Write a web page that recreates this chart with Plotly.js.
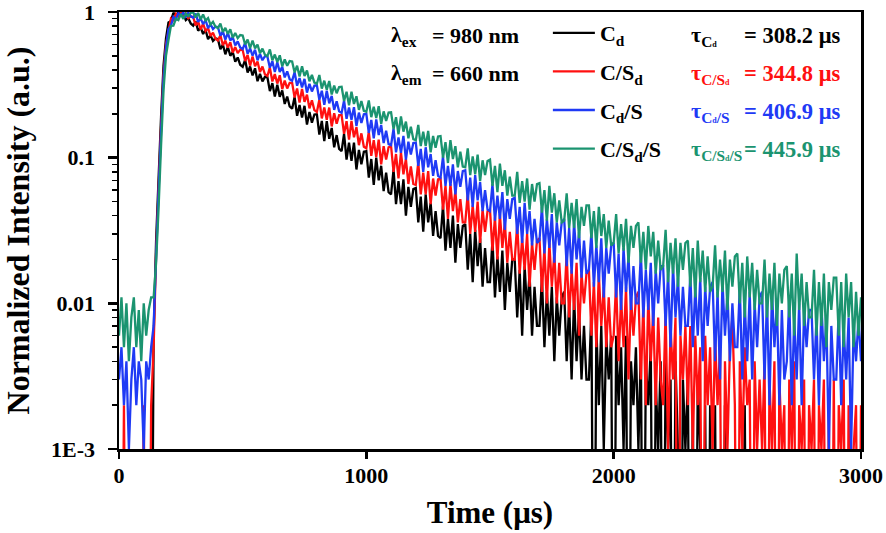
<!DOCTYPE html>
<html><head><meta charset="utf-8">
<script src="https://cdn.plot.ly/plotly-3.0.1.min.js"></script>
<style>html,body{margin:0;padding:0;background:#fff;}#chart{width:886px;height:533px;}</style>
</head><body><div id="chart"></div>
<script>
// Time axis (µs), one sample every 10 µs
const timeUs = [
0,10,20,30,40,50,60,70,80,90,
100,110,120,130,140,150,160,170,180,190,
200,210,220,230,240,250,260,270,280,290,
300,310,320,330,340,350,360,370,380,390,
400,410,420,430,440,450,460,470,480,490,
500,510,520,530,540,550,560,570,580,590,
600,610,620,630,640,650,660,670,680,690,
700,710,720,730,740,750,760,770,780,790,
800,810,820,830,840,850,860,870,880,890,
900,910,920,930,940,950,960,970,980,990,
1000,1010,1020,1030,1040,1050,1060,1070,1080,1090,
1100,1110,1120,1130,1140,1150,1160,1170,1180,1190,
1200,1210,1220,1230,1240,1250,1260,1270,1280,1290,
1300,1310,1320,1330,1340,1350,1360,1370,1380,1390,
1400,1410,1420,1430,1440,1450,1460,1470,1480,1490,
1500,1510,1520,1530,1540,1550,1560,1570,1580,1590,
1600,1610,1620,1630,1640,1650,1660,1670,1680,1690,
1700,1710,1720,1730,1740,1750,1760,1770,1780,1790,
1800,1810,1820,1830,1840,1850,1860,1870,1880,1890,
1900,1910,1920,1930,1940,1950,1960,1970,1980,1990,
2000,2010,2020,2030,2040,2050,2060,2070,2080,2090,
2100,2110,2120,2130,2140,2150,2160,2170,2180,2190,
2200,2210,2220,2230,2240,2250,2260,2270,2280,2290,
2300,2310,2320,2330,2340,2350,2360,2370,2380,2390,
2400,2410,2420,2430,2440,2450,2460,2470,2480,2490,
2500,2510,2520,2530,2540,2550,2560,2570,2580,2590,
2600,2610,2620,2630,2640,2650,2660,2670,2680,2690,
2700,2710,2720,2730,2740,2750,2760,2770,2780,2790,
2800,2810,2820,2830,2840,2850,2860,2870,2880,2890,
2900,2910,2920,2930,2940,2950,2960,2970,2980,2990,
3000];

// Normalized intensity, C_d (black)
const intensityCd = [
0,0,0.001,0,0,0,0,0,0.001,0,
0,0,0,0,0.006,0.027,0.072,0.19,0.43,0.66,
0.85,0.87,0.99,0.94,1.0,0.955,0.98,0.88,0.91,0.835,
0.807,0.86,0.744,0.784,0.707,0.754,0.651,0.695,0.634,0.66,
0.651,0.556,0.599,0.513,0.578,0.501,0.532,0.456,0.488,0.435,
0.421,0.47,0.384,0.423,0.367,0.411,0.335,0.376,0.334,0.359,
0.357,0.287,0.325,0.263,0.317,0.262,0.29,0.234,0.263,0.225,
0.217,0.261,0.194,0.23,0.189,0.227,0.169,0.206,0.174,0.198,
0.199,0.144,0.179,0.13,0.178,0.135,0.16,0.118,0.143,0.115,
0.111,0.146,0.097,0.127,0.095,0.127,0.083,0.113,0.09,0.11,
0.111,0.073,0.098,0.065,0.1,0.07,0.088,0.059,0.079,0.058,
0.056,0.083,0.048,0.069,0.048,0.071,0.04,0.063,0.046,0.061,
0.062,0.036,0.054,0.031,0.056,0.036,0.049,0.029,0.043,0.029,
0.028,0.047,0.023,0.038,0.024,0.04,0.019,0.035,0.024,0.034,
0.035,0.017,0.030,0.014,0.032,0.018,0.028,0.013,0.024,0.014,
0.014,0.027,0.011,0.021,0.012,0.023,0.009,0.019,0.012,0.020,
0.020,0.008,0.017,0.006,0.018,0.009,0.016,0.006,0.013,0.007,
0.007,0.015,0.005,0.012,0.006,0.013,0.004,0.011,0.006,0.011,
0.012,0.004,0.010,0.003,0.011,0.004,0.009,0.003,0.007,0.003,
0.003,0.009,0,0.007,0.002,0.007,0.001,0.006,0.003,0.006,
0,0.006,0.002,0.005,0.001,0.006,0,0.004,0.002,0.005,
0.001,0.005,0,0.004,0.002,0.005,0,0.003,0.001,0.004,
0,0.004,0.001,0.003,0,0.004,0.001,0,0.003,0.001,
0.003,0,0.002,0,0.003,0.001,0,0.002,0,0.002,
0,0.002,0,0.001,0,0.002,0,0,0.001,0,
0.001,0,0,0.002,0,0.001,0,0,0.001,0,
0,0.001,0,0,0.001,0,0,0.001,0,0,
0.001,0,0,0,0.001,0,0,0,0.001,0,
0,0,0.001,0,0,0,0.001,0,0,0,
0,0.001,0,0,0,0,0.001,0,0,0,
0];

// Normalized intensity, C/S_d (red)
const intensityCSd = [
0,0,0.002,0,0,0.001,0,0,0,0,
0.002,0,0,0.002,0.005,0.022,0.06,0.16,0.37,0.6,
0.737,0.903,0.879,0.974,0.936,1.0,0.922,0.979,0.907,0.936,
0.923,0.811,0.859,0.759,0.833,0.742,0.775,0.685,0.722,0.657,
0.639,0.694,0.592,0.637,0.57,0.62,0.527,0.575,0.522,0.552,
0.548,0.461,0.507,0.429,0.495,0.425,0.458,0.388,0.423,0.374,
0.364,0.415,0.334,0.375,0.323,0.368,0.296,0.339,0.299,0.327,
0.327,0.259,0.299,0.239,0.297,0.242,0.271,0.218,0.248,0.212,
0.206,0.25,0.186,0.221,0.182,0.221,0.164,0.202,0.171,0.196,
0.196,0.146,0.178,0.133,0.179,0.138,0.162,0.122,0.147,0.119,
0.116,0.151,0.103,0.132,0.101,0.133,0.09,0.12,0.097,0.118,
0.12,0.08,0.106,0.072,0.109,0.077,0.098,0.066,0.087,0.066,
0.065,0.093,0.056,0.079,0.056,0.081,0.048,0.072,0.055,0.071,
0.072,0.044,0.064,0.038,0.066,0.043,0.059,0.036,0.052,0.036,
0.036,0.057,0.030,0.047,0.031,0.050,0.026,0.044,0.031,0.043,
0.044,0.023,0.039,0.020,0.041,0.024,0.036,0.019,0.031,0.020,
0.020,0.035,0.016,0.028,0.017,0.030,0.013,0.026,0.017,0.027,
0.028,0.012,0.024,0.010,0.026,0.013,0.022,0.010,0.019,0.010,
0.010,0.022,0.008,0.017,0.009,0.019,0.006,0.016,0.010,0.016,
0.017,0.006,0.014,0.005,0.016,0.007,0.013,0.005,0.011,0.005,
0.006,0.014,0.004,0.011,0.005,0.013,0.003,0.011,0.006,0.011,
0.012,0.003,0.010,0.002,0.011,0.004,0.009,0.002,0.008,0.003,
0.002,0.009,0.001,0.007,0.003,0.008,0,0.006,0.003,0.007,
0.002,0.007,0.001,0.006,0.002,0.005,0,0.006,0.002,0.005,
0.001,0.006,0.002,0.005,0,0.004,0.001,0.005,0.008,0.002,
0,0.004,0.001,0.005,0.002,0.003,0,0.004,0.001,0.003,
0.001,0.004,0,0.003,0.001,0.004,0,0.003,0.001,0.002,
0,0.003,0.001,0.004,0,0.002,0.001,0.003,0,0.002,
0.001,0.003,0,0.002,0.001,0.003,0,0.002,0,0.003,
0,0.002,0.001,0.003,0,0.002,0,0.001,0.002,0,
0.002];

// Normalized intensity, C_d/S (blue)
const intensityCdS = [
0.003,0.005,0.002,0.004,0.001,0.003,0.005,0.002,0.004,0.003,
0.001,0.004,0.003,0.005,0.007,0.021,0.058,0.15,0.35,0.57,
0.763,0.806,0.927,0.893,0.985,0.946,0.99,0.931,0.989,0.936,
0.916,0.975,0.857,0.905,0.827,0.881,0.774,0.826,0.764,0.796,
0.788,0.688,0.737,0.647,0.719,0.638,0.672,0.591,0.629,0.571,
0.558,0.613,0.518,0.563,0.502,0.552,0.467,0.515,0.467,0.498,
0.495,0.415,0.461,0.388,0.453,0.388,0.421,0.356,0.392,0.346,
0.338,0.386,0.312,0.352,0.304,0.348,0.28,0.322,0.285,0.313,
0.314,0.25,0.288,0.231,0.288,0.236,0.266,0.213,0.244,0.208,
0.203,0.247,0.185,0.221,0.182,0.222,0.165,0.204,0.173,0.199,
0.2,0.148,0.182,0.136,0.183,0.143,0.168,0.126,0.153,0.124,
0.122,0.158,0.109,0.138,0.108,0.141,0.097,0.129,0.105,0.126,
0.127,0.088,0.115,0.08,0.118,0.086,0.106,0.075,0.096,0.075,
0.073,0.102,0.064,0.088,0.064,0.09,0.056,0.081,0.063,0.081,
0.082,0.051,0.073,0.046,0.076,0.051,0.068,0.043,0.06,0.044,
0.043,0.066,0.037,0.055,0.038,0.058,0.032,0.052,0.038,0.052,
0.053,0.03,0.046,0.026,0.049,0.03,0.043,0.025,0.038,0.026,
0.027,0.046,0.022,0.038,0.024,0.041,0.019,0.036,0.025,0.036,
0.038,0.018,0.033,0.016,0.036,0.020,0.031,0.015,0.027,0.016,
0.017,0.031,0.013,0.025,0.014,0.028,0.011,0.024,0.016,0.025,
0.026,0.011,0.022,0.009,0.024,0.012,0.021,0.009,0.018,0.010,
0.010,0.022,0.008,0.017,0.009,0.019,0.007,0.017,0.010,0.018,
0.018,0.007,0.016,0.005,0.018,0.008,0.015,0.006,0.013,0.007,
0.007,0.016,0.005,0.013,0.006,0.015,0.004,0.013,0.007,0.013,
0.014,0.004,0.012,0.003,0.014,0.006,0.012,0.004,0.010,0.005,
0.005,0.013,0.003,0.010,0.004,0.012,0.003,0.010,0.005,0.011,
0.012,0.003,0.011,0.002,0.012,0.005,0.010,0.002,0.009,0.003,
0.004,0.011,0.002,0.008,0.003,0.010,0.002,0.009,0.005,0.009,
0.009,0.003,0.008,0.002,0.010,0.004,0.008,0.001,0.007,0.003,
0.003,0.009,0.002,0.007,0.003,0.008,0.001,0.007,0.004,0.008,
0.004];

// Normalized intensity, C/S_d/S (green)
const intensityCSdS = [
0.006,0.011,0.005,0.010,0.004,0.008,0.011,0.005,0.009,0.004,
0.010,0.006,0.009,0.011,0.011,0.019,0.045,0.12,0.29,0.5,
0.642,0.805,0.806,0.9,0.881,0.968,0.898,0.976,0.938,0.989,
0.995,0.918,0.986,0.89,0.963,0.875,0.909,0.82,0.858,0.794,
0.776,0.835,0.73,0.778,0.708,0.762,0.666,0.718,0.662,0.695,
0.69,0.599,0.648,0.566,0.638,0.563,0.599,0.523,0.561,0.509,
0.499,0.554,0.466,0.511,0.454,0.505,0.424,0.473,0.428,0.461,
0.458,0.385,0.428,0.361,0.424,0.364,0.397,0.335,0.371,0.328,
0.322,0.37,0.298,0.338,0.293,0.336,0.272,0.313,0.277,0.306,
0.307,0.245,0.284,0.229,0.284,0.234,0.264,0.213,0.245,0.21,
0.207,0.247,0.19,0.224,0.187,0.226,0.171,0.208,0.179,0.204,
0.205,0.157,0.19,0.145,0.192,0.151,0.177,0.136,0.163,0.134,
0.132,0.168,0.12,0.151,0.12,0.153,0.109,0.141,0.117,0.14,
0.141,0.1,0.128,0.092,0.132,0.098,0.12,0.086,0.11,0.087,
0.086,0.116,0.076,0.102,0.077,0.105,0.069,0.096,0.076,0.095,
0.097,0.064,0.088,0.058,0.091,0.064,0.082,0.055,0.074,0.055,
0.055,0.08,0.049,0.069,0.05,0.072,0.044,0.066,0.05,0.066,
0.067,0.042,0.06,0.037,0.064,0.042,0.057,0.036,0.051,0.036,
0.037,0.057,0.033,0.049,0.033,0.052,0.028,0.046,0.034,0.047,
0.047,0.028,0.043,0.024,0.046,0.029,0.041,0.024,0.037,0.025,
0.026,0.041,0.022,0.035,0.023,0.038,0.019,0.034,0.024,0.034,
0.036,0.019,0.031,0.017,0.034,0.021,0.031,0.016,0.027,0.017,
0.018,0.032,0.014,0.026,0.016,0.028,0.013,0.026,0.017,0.026,
0.027,0.013,0.024,0.011,0.027,0.014,0.023,0.012,0.021,0.012,
0.013,0.025,0.011,0.02,0.012,0.023,0.009,0.02,0.013,0.021,
0.022,0.01,0.019,0.008,0.021,0.011,0.019,0.009,0.017,0.01,
0.01,0.02,0.008,0.016,0.009,0.019,0.007,0.016,0.01,0.017,
0.018,0.008,0.016,0.006,0.022,0.009,0.016,0.007,0.014,0.008,
0.008,0.017,0.006,0.014,0.007,0.016,0.005,0.014,0.009,0.015,
0.015,0.006,0.014,0.005,0.016,0.008,0.014,0.005,0.012,0.006,
0.011];

const seriesNames = ['C<sub>d</sub>', 'C/S<sub>d</sub>', 'C<sub>d</sub>/S', 'C/S<sub>d</sub>/S'];
const seriesColors = ['#000000', '#ff1010', '#1f3af5', '#1b9470'];
const seriesData = [intensityCd, intensityCSd, intensityCdS, intensityCSdS];

const lifetimeSubs = ['C<span style="font-size:8px">d</span>', 'C/S<span style="font-size:8px">d</span>',
                      'C<span style="font-size:8px">d</span>/S', 'C/S<span style="font-size:8px">d</span>/S'];
const lifetimeValues = ['308.2', '344.8', '406.9', '445.9'];

const excitationLabel = ['λ<sub>ex</sub>', '= 980 nm'];
const emissionLabel = ['λ<sub>em</sub>', '= 660 nm'];

const xTickVals = [0, 1000, 2000, 3000];
const yTickVals = [0.001, 0.01, 0.1, 1];
const yTickText = ['1E-3', '0.01', '0.1', '1'];

// ---- drawing ----
const FONT = '"Liberation Serif", "Times New Roman", Times, serif';
const BELOW_AXIS = 1e-5; // zero-count bins fall below the log axis, as in the original

const traces = seriesData.map((vals, i) => ({
  type: 'scatter', mode: 'lines',
  x: timeUs,
  y: vals.map(v => (v > 0 ? v : BELOW_AXIS)),
  name: seriesNames[i],
  legendgroup: 'g' + i,
  line: { color: seriesColors[i], width: 2.3, simplify: false },
  hoverinfo: 'skip'
}));

const minorVals = [];
[0.001, 0.01, 0.1].forEach(d => { for (let k = 2; k <= 9; k++) minorVals.push(+(d * k).toPrecision(3)); });

const rowY = [0.946, 0.859, 0.772, 0.685];
const annotations = [];
[excitationLabel, emissionLabel].forEach((lab, r) => {
  annotations.push({ xref: 'paper', yref: 'paper', x: 0.364, y: rowY[r], xanchor: 'left', yanchor: 'middle',
    text: lab[0], showarrow: false, font: { family: FONT, size: 22, weight: 'bold', color: '#000' } });
  annotations.push({ xref: 'paper', yref: 'paper', x: 0.419, y: rowY[r], xanchor: 'left', yanchor: 'middle',
    text: lab[1], showarrow: false, font: { family: FONT, size: 22, weight: 'bold', color: '#000' } });
});
lifetimeValues.forEach((val, r) => {
  annotations.push({ xref: 'paper', yref: 'paper', x: 0.768, y: rowY[r], xanchor: 'left', yanchor: 'middle',
    text: 'τ<sub>' + lifetimeSubs[r] + '</sub>', showarrow: false,
    font: { family: FONT, size: 22, weight: 'bold', color: seriesColors[r] } });
  annotations.push({ xref: 'paper', yref: 'paper', x: 0.839, y: rowY[r], xanchor: 'left', yanchor: 'middle',
    text: '= ' + val + ' μs', showarrow: false,
    font: { family: FONT, size: 22.5, weight: 'bold', color: seriesColors[r] } });
});

const tickFont = { family: FONT, size: 22, weight: 'bold', color: '#000' };

const layout = {
  width: 886, height: 533,
  margin: { l: 119, r: 25, t: 12, b: 84, autoexpand: false },
  paper_bgcolor: '#ffffff', plot_bgcolor: '#ffffff',
  showlegend: true,
  legend: {
    x: 0.578, y: 1.0, xanchor: 'left', yanchor: 'top',
    bgcolor: 'rgba(0,0,0,0)', borderwidth: 0,
    font: { family: FONT, size: 22, weight: 'bold', color: '#000' },
    tracegroupgap: 7, itemwidth: 42, itemclick: false, itemdoubleclick: false
  },
  xaxis: {
    range: [0, 3000], tickmode: 'array', tickvals: xTickVals,
    ticks: 'outside', ticklen: 7, tickwidth: 2.5, tickcolor: '#000',
    showline: true, linewidth: 2.5, linecolor: '#000', mirror: true,
    showgrid: false, zeroline: false, tickfont: tickFont, ticklabelstandoff: -2,
    ticklabeloverflow: 'allow',
    title: { text: 'Time (μs)', font: { family: FONT, size: 31, weight: 'bold', color: '#000' }, standoff: 15 }
  },
  yaxis: {
    type: 'log', range: [-3, 0.0005], tickmode: 'array', tickvals: yTickVals, ticktext: yTickText,
    ticks: 'outside', ticklen: 9, tickwidth: 2.5, tickcolor: '#000',
    minor: { tickmode: 'array', tickvals: minorVals, ticks: 'outside', ticklen: 5, tickwidth: 1.5, tickcolor: '#000', showgrid: false },
    showline: true, linewidth: 2.5, linecolor: '#000', mirror: true,
    showgrid: false, zeroline: false, tickfont: tickFont, ticklabelstandoff: 8,
    ticklabeloverflow: 'allow',
    title: { text: 'Normalized Intensity (a.u.)', font: { family: FONT, size: 32, weight: 'bold', color: '#000' }, standoff: 17 }
  },
  annotations: annotations
};

Plotly.newPlot('chart', traces, layout, { staticPlot: true, displayModeBar: false });
</script>
</body></html>
